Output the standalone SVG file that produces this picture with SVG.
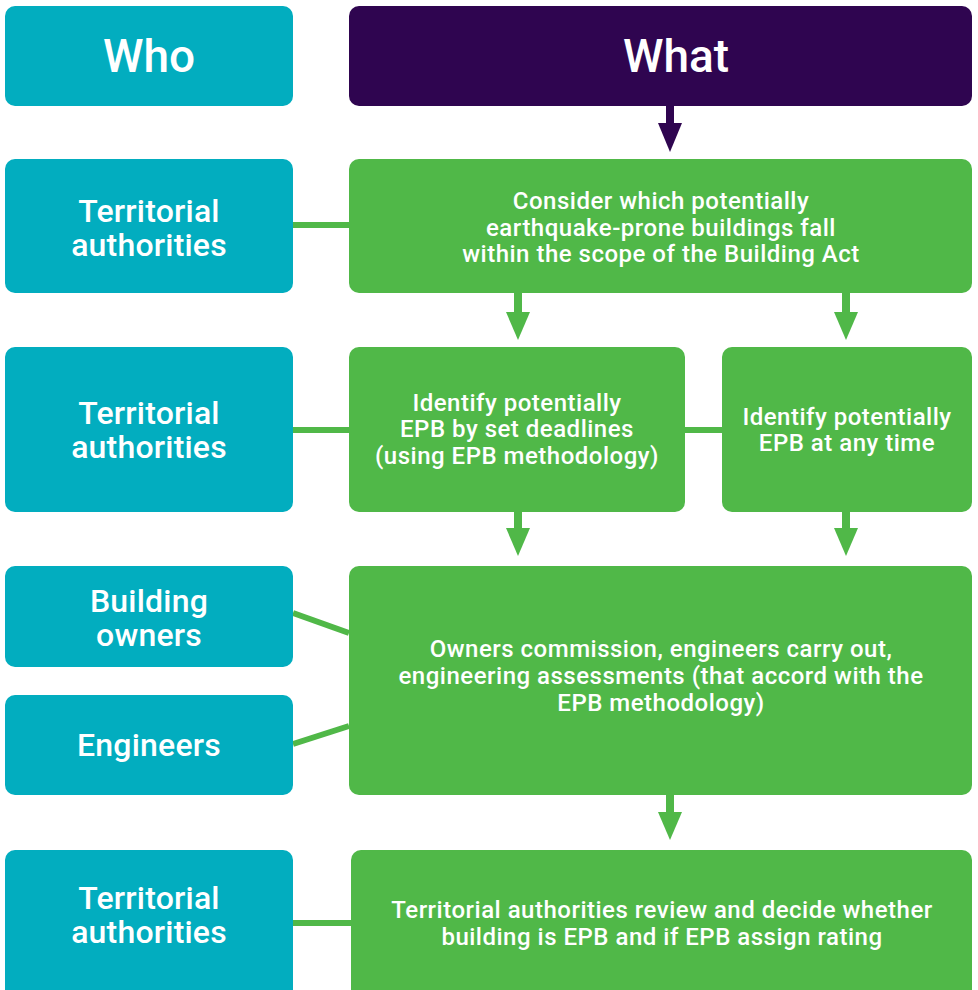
<svg xmlns="http://www.w3.org/2000/svg" width="978" height="990" viewBox="0 0 978 990">
  <style>
    .who { fill: #02adbf; }
    .what { fill: #2f0550; }
    .step { fill: #50b848; }
    .hdr { font-family: Roboto, "Liberation Sans", sans-serif; font-weight: 500; font-size: 46px; fill: #fff; text-anchor: middle; }
    .role { font-family: Roboto, "Liberation Sans", sans-serif; font-weight: 500; font-size: 32px; fill: #fff; text-anchor: middle; letter-spacing: 0.2px; }
    .txt { font-family: Roboto, "Liberation Sans", sans-serif; font-weight: 500; font-size: 24px; fill: #fff; text-anchor: middle; letter-spacing: 0.5px; }
    .link { stroke: #50b848; stroke-width: 6; fill: none; }
    .flow { stroke: #50b848; stroke-width: 8; fill: none; }
  </style>

  <!-- connectors and flow arrows -->
  <g id="connectors">
    <path class="link" d="M293,225 H349"/>
    <path class="link" d="M293,430 H349"/>
    <path class="link" d="M685,430 H722"/>
    <path class="link" d="M293,613 L349,633"/>
    <path class="link" d="M293,744 L349,726"/>
    <path class="link" d="M293,923 H351"/>
    <path d="M670,106 V124" stroke="#2f0550" stroke-width="8" fill="none"/>
    <path d="M658,123 H682 L670,152 Z" fill="#2f0550"/>
    <path class="flow" d="M518,293 V313"/>
    <path d="M506,312 H530 L518,340 Z" fill="#50b848"/>
    <path class="flow" d="M846,293 V313"/>
    <path d="M834,312 H858 L846,340 Z" fill="#50b848"/>
    <path class="flow" d="M518,512 V529"/>
    <path d="M506,528 H530 L518,556 Z" fill="#50b848"/>
    <path class="flow" d="M846,512 V529"/>
    <path d="M834,528 H858 L846,556 Z" fill="#50b848"/>
    <path class="flow" d="M670,795 V813"/>
    <path d="M658,812 H682 L670,840 Z" fill="#50b848"/>
  </g>

  <g id="who-header">
    <rect class="who" x="5" y="6" width="288" height="100" rx="10"/>
    <text class="hdr" x="149" y="72">Who</text>
  </g>
  <g id="what-header">
    <rect class="what" x="349" y="6" width="623" height="100" rx="10"/>
    <text class="hdr" x="676" y="72">What</text>
  </g>

  <g id="who-ta-1">
    <rect class="who" x="5" y="159" width="288" height="134" rx="10"/>
    <text class="role" x="149" y="222">Territorial</text>
    <text class="role" x="149" y="256">authorities</text>
  </g>
  <g id="step-scope">
    <rect class="step" x="349" y="159" width="623" height="134" rx="10"/>
    <text class="txt" x="661" y="209">Consider which potentially</text>
    <text class="txt" x="661" y="236">earthquake-prone buildings fall</text>
    <text class="txt" x="661" y="262">within the scope of the Building Act</text>
  </g>

  <g id="who-ta-2">
    <rect class="who" x="5" y="347" width="288" height="165" rx="10"/>
    <text class="role" x="149" y="424">Territorial</text>
    <text class="role" x="149" y="458">authorities</text>
  </g>
  <g id="step-deadlines">
    <rect class="step" x="349" y="347" width="336" height="165" rx="10"/>
    <text class="txt" x="517" y="411">Identify potentially</text>
    <text class="txt" x="517" y="437">EPB by set deadlines</text>
    <text class="txt" x="517" y="464">(using EPB methodology)</text>
  </g>
  <g id="step-anytime">
    <rect class="step" x="722" y="347" width="250" height="165" rx="10"/>
    <text class="txt" x="847" y="425">Identify potentially</text>
    <text class="txt" x="847" y="451">EPB at any time</text>
  </g>

  <g id="who-owners">
    <rect class="who" x="5" y="566" width="288" height="101" rx="10"/>
    <text class="role" x="149" y="612">Building</text>
    <text class="role" x="149" y="646">owners</text>
  </g>
  <g id="who-engineers">
    <rect class="who" x="5" y="695" width="288" height="100" rx="10"/>
    <text class="role" x="149" y="756">Engineers</text>
  </g>
  <g id="step-assessment">
    <rect class="step" x="349" y="566" width="623" height="229" rx="10"/>
    <text class="txt" x="661" y="657">Owners commission, engineers carry out,</text>
    <text class="txt" x="661" y="684">engineering assessments (that accord with the</text>
    <text class="txt" x="661" y="711">EPB methodology)</text>
  </g>

  <g id="who-ta-3">
    <rect class="who" x="5" y="850" width="288" height="150" rx="10"/>
    <text class="role" x="149" y="909">Territorial</text>
    <text class="role" x="149" y="943">authorities</text>
  </g>
  <g id="step-review">
    <rect class="step" x="351" y="850" width="621" height="150" rx="10"/>
    <text class="txt" x="662" y="918">Territorial authorities review and decide whether</text>
    <text class="txt" x="662" y="945">building is EPB and if EPB assign rating</text>
  </g>
</svg>
